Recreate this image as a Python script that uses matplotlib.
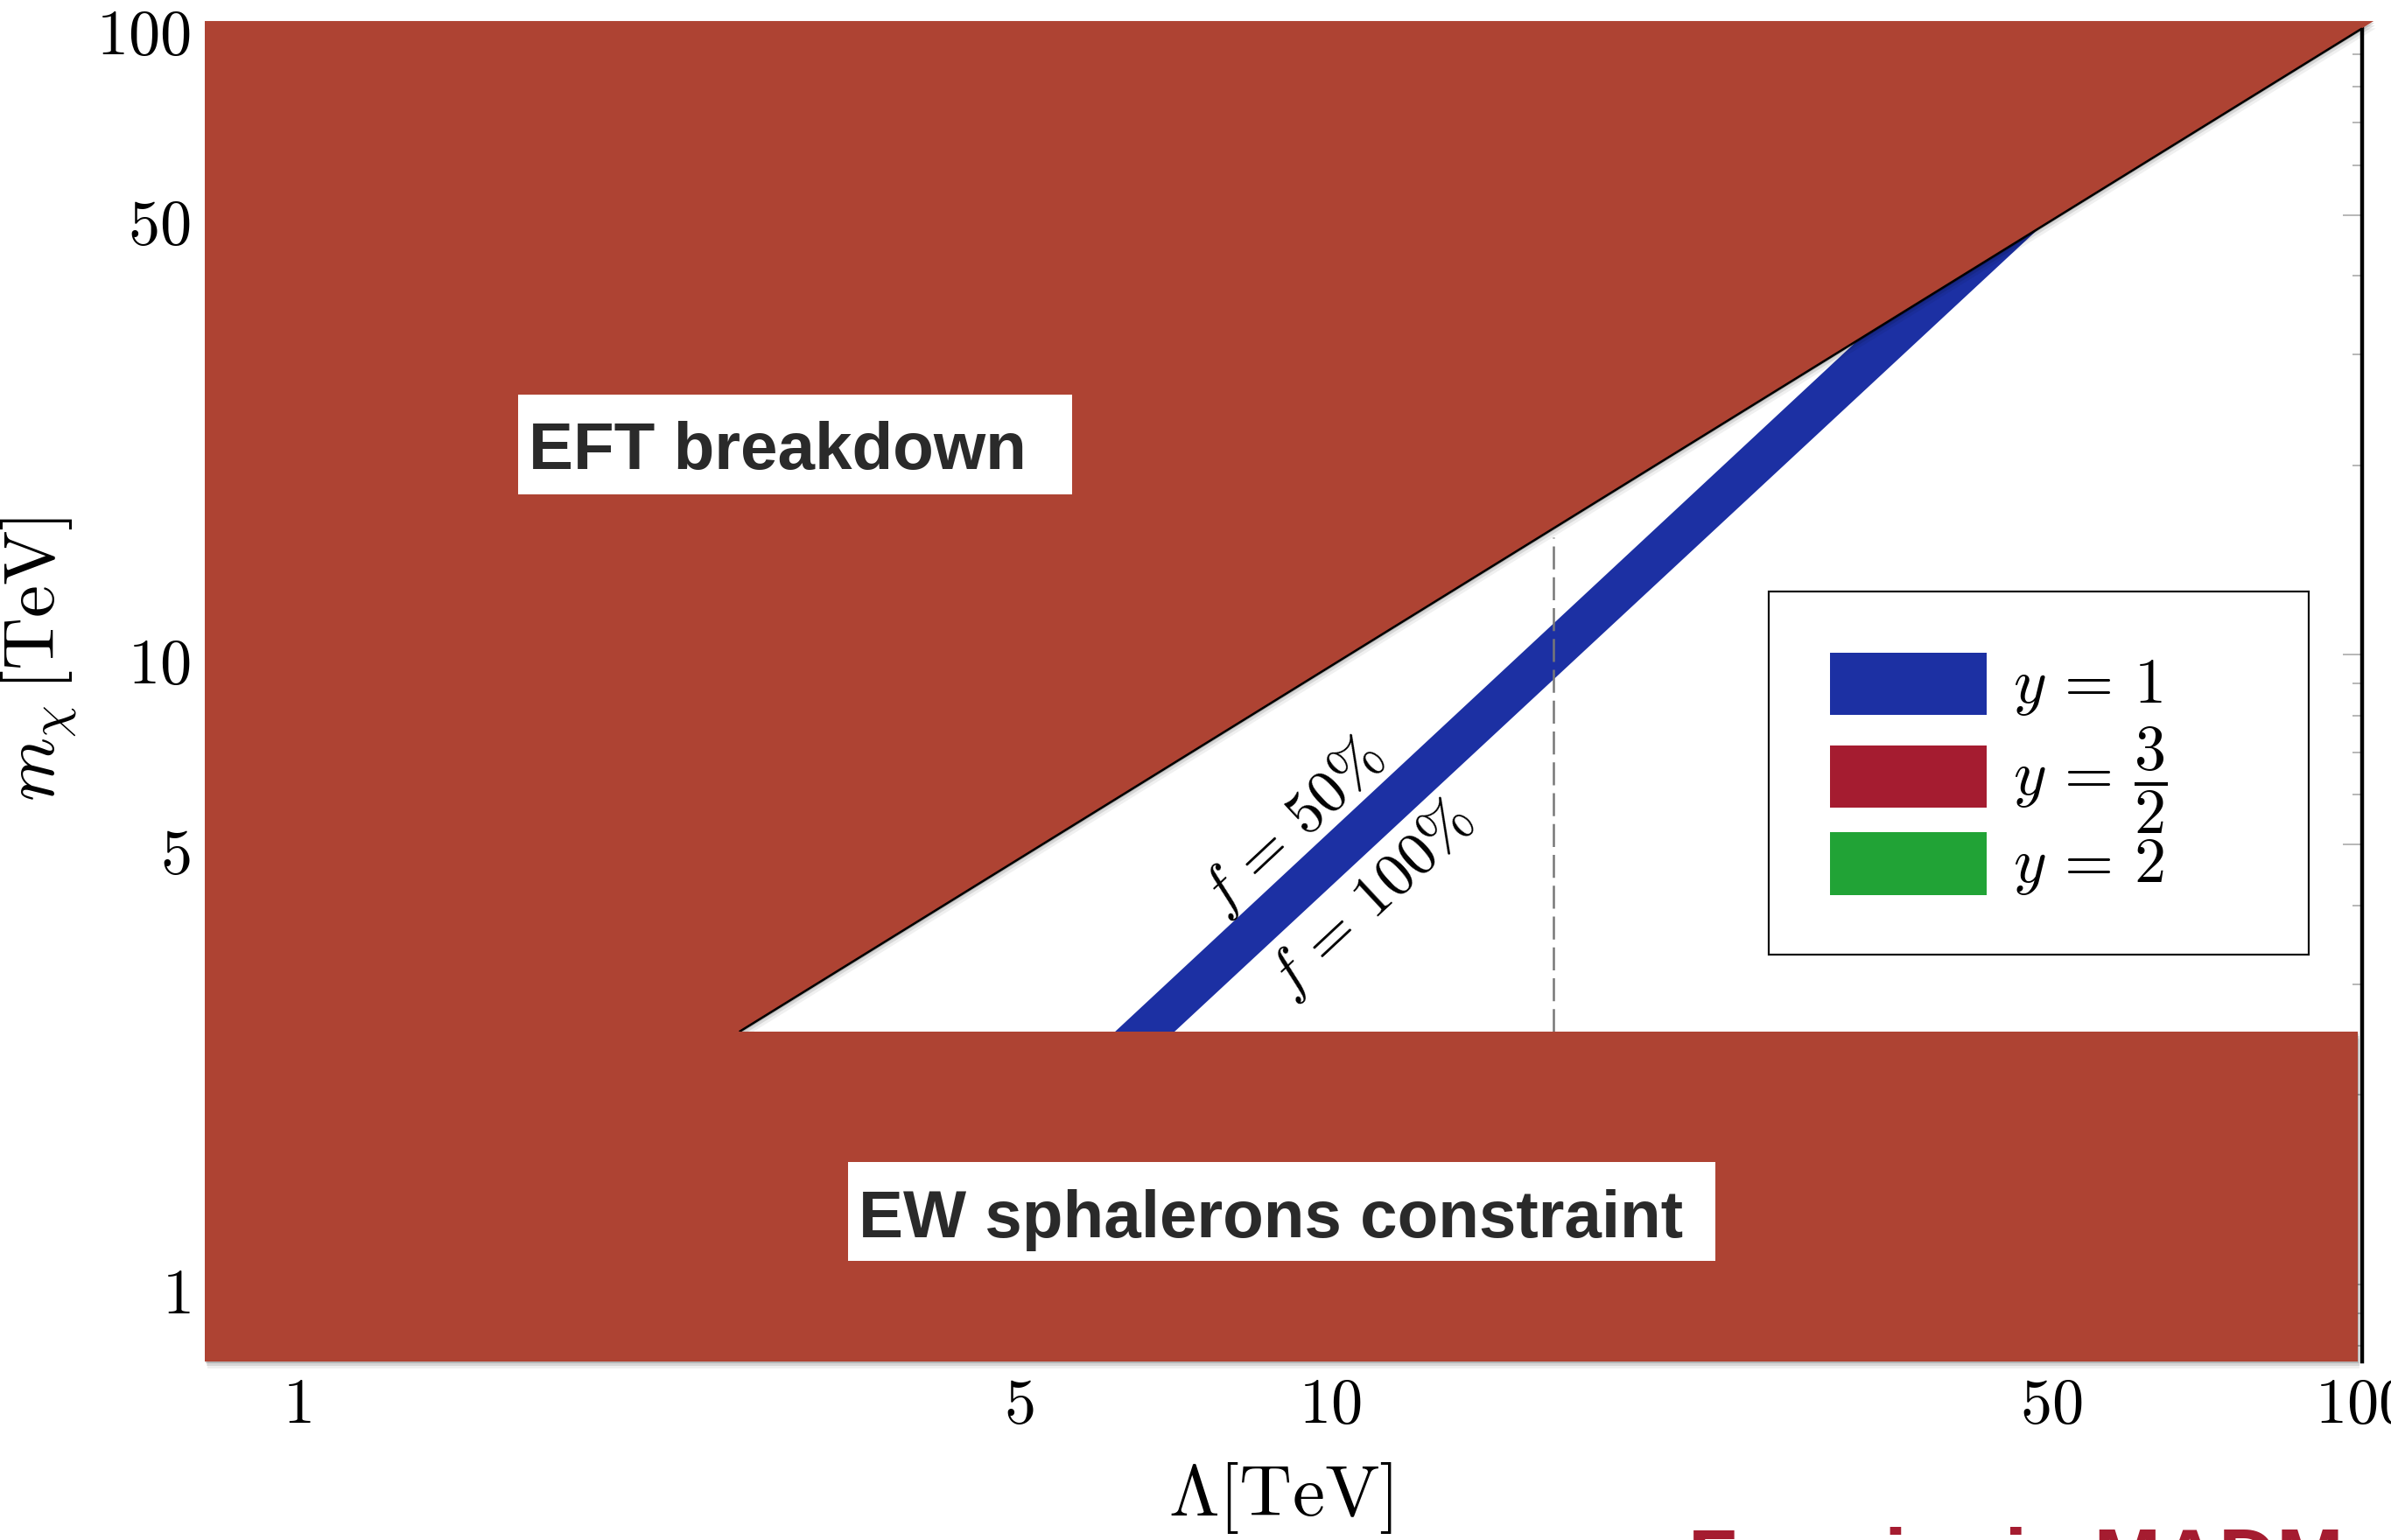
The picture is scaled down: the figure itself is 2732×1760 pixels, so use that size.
import matplotlib
matplotlib.use("Agg")
import matplotlib.pyplot as plt
from matplotlib.patches import Polygon, Rectangle
from matplotlib.ticker import NullFormatter, LogLocator
import matplotlib.patheffects as pe
import matplotlib.transforms as mtransforms

plt.rcParams['mathtext.fontset'] = 'cm'
plt.rcParams['font.family'] = ['Liberation Sans', 'DejaVu Sans']

# ---------------- data ----------------
lam_range = [0.8136, 100.0]          # Lambda axis range [TeV]
m_range = [0.7544, 100.0]            # m_chi axis range [TeV]

# EFT breakdown region boundary (upper-left excluded region)
eft_lam = [2.68, 102.6]
eft_m = [2.52, 101.6]
eft_line_lam = [2.68, 100.0]
eft_line_m = [2.52, 98.9]

# EW sphaleron constraint (lower excluded band)
sph_m_max = 2.52
sph_lam_max = 99.0

# y = 1 band edges (f = 50% and f = 100%)
f50_lam = [6.0, 36.0]
f50_m = [2.4, 37.0]
f100_lam = [6.85, 52.0]
f100_m = [2.4, 52.7]

# dashed vertical reference line
dash_lam = 16.47
dash_m = [2.52, 15.4]

xticks = [1, 5, 10, 50, 100]
xticklabels = ['1', '5', '10', '50', '100']
yticks = [1, 5, 10, 50, 100]
yticklabels = ['1', '5', '10', '50', '100']

legend_labels = [r'$y\,=\,1$', r'$y\,=\,\dfrac{3}{2}$', r'$y\,=\,2$']
legend_colors = ['#1c30a3', '#a51c30', '#21a336']

excluded_color = '#ae4333'
band_color = legend_colors[0]

# ---------------- figure ----------------
W, H, DPI = 2732, 1760, 200
fig = plt.figure(figsize=(W / DPI, H / DPI), dpi=DPI)


def fx(px):
    return px / W


def fy(py):
    return 1 - py / H


ax = fig.add_axes([fx(234), fy(1556), fx(2699) - fx(234), fy(29) - fy(1556)])
ax.set_xscale('log')
ax.set_yscale('log')
ax.set_xlim(*lam_range)
ax.set_ylim(*m_range)

for s in ['left', 'bottom', 'top']:
    ax.spines[s].set_visible(False)
ax.spines['right'].set_linewidth(1.6)
ax.spines['right'].set_color('black')

ax.set_xticks(xticks)
ax.set_xticklabels(['$' + t + '$' for t in xticklabels], fontsize=26)
ax.set_yticks(yticks)
ax.set_yticklabels(['$' + t + '$' for t in yticklabels], fontsize=26)
ax.xaxis.set_minor_locator(LogLocator(base=10, subs=range(2, 10)))
ax.yaxis.set_minor_locator(LogLocator(base=10, subs=range(2, 10)))
ax.xaxis.set_minor_formatter(NullFormatter())
ax.yaxis.set_minor_formatter(NullFormatter())
ax.tick_params(axis='x', which='both', bottom=False, top=False, labelbottom=True, pad=3)
ax.tick_params(axis='y', which='both', left=False, right=True, labelleft=True,
               direction='in', color='#aaaaaa', width=0.6, pad=6)
ax.tick_params(axis='y', which='major', length=8)
ax.tick_params(axis='y', which='minor', length=4)
shift = mtransforms.ScaledTranslation(0, -2.5 / 72, fig.dpi_scale_trans)
for lab in ax.get_yticklabels():
    lab.set_transform(lab.get_transform() + shift)

# blue band (y = 1)
band = Polygon(list(zip(f50_lam, f50_m)) + list(zip(f100_lam[::-1], f100_m[::-1])),
               closed=True, facecolor=band_color, edgecolor='none', zorder=2)
ax.add_patch(band)

# dashed line
ax.plot([dash_lam, dash_lam], dash_m, color='#777777', lw=0.9,
        dashes=(10.5, 3.6), zorder=2)

shadow = [pe.SimplePatchShadow(offset=(0.3, -0.8), shadow_rgbFace='k', alpha=0.16),
          pe.SimplePatchShadow(offset=(0.6, -1.8), shadow_rgbFace='k', alpha=0.10),
          pe.SimplePatchShadow(offset=(0.9, -3.0), shadow_rgbFace='k', alpha=0.06),
          pe.Normal()]

# EFT breakdown region
eft_poly = Polygon([(lam_range[0], eft_m[1]), (eft_lam[1], eft_m[1]),
                    (eft_lam[0], eft_m[0]), (lam_range[0], eft_m[0])],
                   closed=True, facecolor=excluded_color, edgecolor='none',
                   zorder=3, clip_on=False)
eft_poly.set_path_effects(shadow)
ax.add_patch(eft_poly)
ax.plot(eft_line_lam, eft_line_m, color='black', lw=0.9, zorder=3.5,
        solid_capstyle='butt', clip_on=False)

# EW sphaleron region
sph_rect = Polygon([(lam_range[0], m_range[0]), (sph_lam_max, m_range[0]),
                    (sph_lam_max, sph_m_max), (lam_range[0], sph_m_max)],
                   closed=True, facecolor=excluded_color, edgecolor='none',
                   zorder=4, clip_on=False)
sph_rect.set_path_effects(shadow)
ax.add_patch(sph_rect)

# f labels
ax.text(9.22, 5.33, r'$f\,=\,50\%$', rotation=43, rotation_mode='anchor',
        ha='center', va='center', fontsize=25, zorder=5)
ax.text(10.98, 4.08, r'$f\,=\,100\%$', rotation=43, rotation_mode='anchor',
        ha='center', va='center', fontsize=25, zorder=5)

# white label boxes
def label_box(x0, y0, x1, y1, tx, ty, text):
    fig.add_artist(Rectangle((fx(x0), fy(y1)), fx(x1) - fx(x0), fy(y0) - fy(y1),
                             transform=fig.transFigure, facecolor='white',
                             edgecolor='none', zorder=6))
    fig.text(fx(tx), fy(ty), text, ha='left', va='center', fontsize=27.5,
             fontweight='bold', color='#2a2a2a', zorder=7)

label_box(592, 451, 1225, 565, 604, 516, 'EFT breakdown')
label_box(969, 1328, 1960, 1441, 981, 1394, 'EW sphalerons constraint')

# legend (manual)
fig.add_artist(Rectangle((fx(2021), fy(1091)), fx(2638) - fx(2021), fy(676) - fy(1091),
                         transform=fig.transFigure, facecolor='white',
                         edgecolor='#111111', lw=0.8, zorder=6))
patch_rows = [(746, 817), (852, 923), (951, 1023)]
for (y0, y1), col, lab in zip(patch_rows, legend_colors, legend_labels):
    fig.add_artist(Rectangle((fx(2091), fy(y1)), fx(2270) - fx(2091), fy(y0) - fy(y1),
                             transform=fig.transFigure, facecolor=col,
                             edgecolor='none', zorder=7))
    fig.text(fx(2300), fy((y0 + y1) / 2 + 4), lab, ha='left', va='center',
             fontsize=26, zorder=7)

# axis labels
fig.text(fx(1463), fy(1712), r'$\Lambda[\mathrm{TeV}]$', ha='center', va='center',
         fontsize=30)
fig.text(fx(44), fy(753), r'$m_\chi\,[\mathrm{TeV}]$', ha='center', va='center',
         rotation=90, fontsize=30)

# clipped title at the bottom
fig.text(fx(1929), fy(1812), 'Fermionic MADM', ha='left', va='baseline',
         fontsize=33, fontweight='bold', color='#a51c30')

fig.savefig('out.png', dpi=DPI)
